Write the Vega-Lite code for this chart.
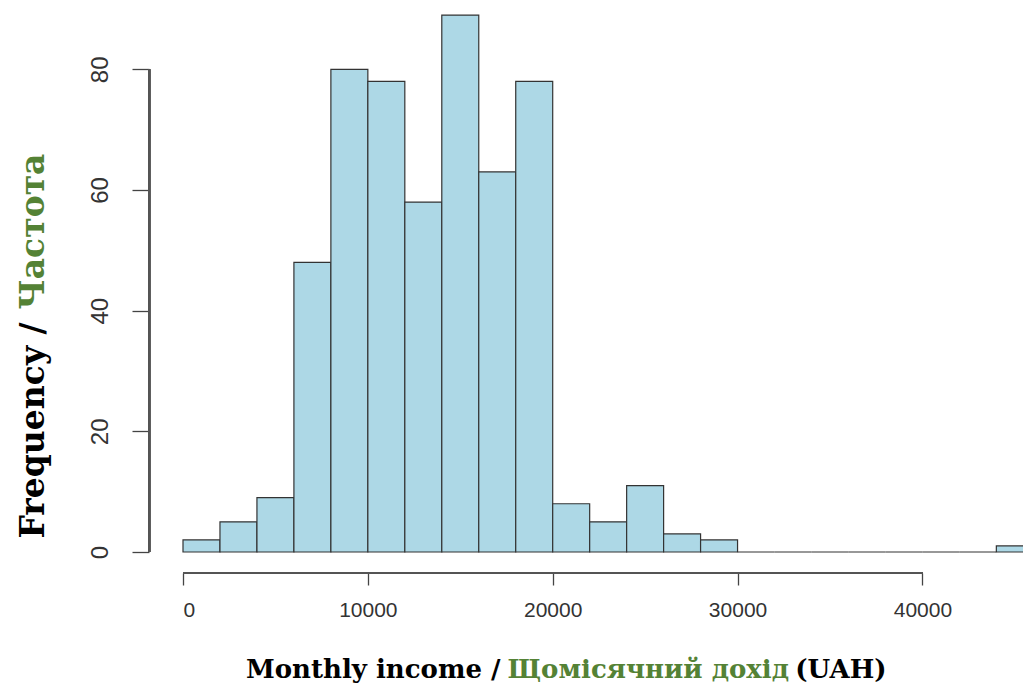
{
  "$schema": "https://vega.github.io/schema/vega-lite/v6.json",
  "width": 840,
  "height": 549,
  "autosize": "none",
  "padding": {"left": 183, "top": 3, "right": 0, "bottom": 134},
  "background": "white",
  "config": {"view": {"stroke": null}},
  "data": {
    "values": [
      {"bin_start": 0, "bin_end": 2000, "count": 2},
      {"bin_start": 2000, "bin_end": 4000, "count": 5},
      {"bin_start": 4000, "bin_end": 6000, "count": 9},
      {"bin_start": 6000, "bin_end": 8000, "count": 48},
      {"bin_start": 8000, "bin_end": 10000, "count": 80},
      {"bin_start": 10000, "bin_end": 12000, "count": 78},
      {"bin_start": 12000, "bin_end": 14000, "count": 58},
      {"bin_start": 14000, "bin_end": 16000, "count": 89},
      {"bin_start": 16000, "bin_end": 18000, "count": 63},
      {"bin_start": 18000, "bin_end": 20000, "count": 78},
      {"bin_start": 20000, "bin_end": 22000, "count": 8},
      {"bin_start": 22000, "bin_end": 24000, "count": 5},
      {"bin_start": 24000, "bin_end": 26000, "count": 11},
      {"bin_start": 26000, "bin_end": 28000, "count": 3},
      {"bin_start": 28000, "bin_end": 30000, "count": 2},
      {"bin_start": 30000, "bin_end": 32000, "count": 0},
      {"bin_start": 32000, "bin_end": 34000, "count": 0},
      {"bin_start": 34000, "bin_end": 36000, "count": 0},
      {"bin_start": 36000, "bin_end": 38000, "count": 0},
      {"bin_start": 38000, "bin_end": 40000, "count": 0},
      {"bin_start": 40000, "bin_end": 42000, "count": 0},
      {"bin_start": 42000, "bin_end": 44000, "count": 0},
      {"bin_start": 44000, "bin_end": 46000, "count": 1}
    ]
  },
  "layer": [
    {
      "mark": {"type": "bar", "fill": "#ADD8E6", "stroke": "#333333", "strokeWidth": 1.2},
      "encoding": {
        "x": {
          "field": "bin_start", "type": "quantitative",
          "scale": {"domain": [0, 45442], "nice": false, "zero": false},
          "axis": {
            "orient": "bottom", "values": [0, 10000, 20000, 30000, 40000], "format": "d",
            "domain": false, "grid": false, "offset": 21, "tickSize": 12, "tickColor": "#444444", "tickWidth": 1.3,
            "labelFont": "Liberation Sans", "labelFontSize": 21, "labelColor": "#333333", "labelPadding": 14,
            "title": "Monthly income /", "titleFont": "DejaVu Serif", "titleFontWeight": "bold", "titleFontSize": 26,
            "titleColor": "#000000", "titleX": 317, "titleY": 104, "titleAlign": "right", "titleBaseline": "alphabetic", "titleAnchor": null
          }
        },
        "x2": {"field": "bin_end"},
        "y": {
          "field": "count", "type": "quantitative",
          "scale": {"domain": [0, 91], "nice": false, "zero": true},
          "axis": {
            "orient": "left", "values": [0, 20, 40, 60, 80],
            "domain": false, "grid": false, "offset": 34, "tickSize": 17, "tickColor": "#444444", "tickWidth": 1.3,
            "labelFont": "Liberation Sans", "labelFontSize": 24, "labelColor": "#333333", "labelAngle": -90, "labelPadding": 20,
            "title": "Frequency /", "titleFont": "DejaVu Serif", "titleFontWeight": "bold", "titleFontSize": 33,
            "titleColor": "#000000", "titleX": -106, "titleY": 535, "titleAlign": "left", "titleBaseline": "alphabetic", "titleAngle": -90, "titleAnchor": null
          }
        },
        "y2": {"datum": 0}
      }
    },
    {
      "mark": {"type": "rule", "color": "#555555", "strokeWidth": 1.8},
      "encoding": {
        "x": {"datum": -1829, "type": "quantitative", "scale": {"domain": [0, 45442], "nice": false, "zero": false}, "axis": null},
        "y": {"datum": 0, "type": "quantitative", "scale": {"domain": [0, 91], "nice": false, "zero": true}, "axis": null},
        "y2": {"datum": 80}
      }
    },
    {
      "mark": {"type": "rule", "color": "#555555", "strokeWidth": 1.5},
      "encoding": {
        "x": {"datum": 0, "type": "quantitative", "scale": {"domain": [0, 45442], "nice": false, "zero": false}, "axis": null},
        "x2": {"datum": 40000},
        "y": {"datum": -3.43, "type": "quantitative", "scale": {"domain": [0, 91], "nice": false, "zero": true}, "axis": null}
      }
    },
    {
      "mark": {"type": "bar", "opacity": 0},
      "encoding": {
        "x": {
          "field": "bin_start", "type": "quantitative",
          "scale": {"domain": [0, 45442], "nice": false, "zero": false},
          "axis": {
            "orient": "bottom", "domain": false, "ticks": false, "labels": false, "grid": false,
            "title": "Щомісячний дохід", "titleFont": "DejaVu Serif", "titleFontWeight": "bold", "titleFontSize": 26,
            "titleColor": "#548235", "titleX": 324, "titleY": 125, "titleAlign": "left", "titleBaseline": "alphabetic", "titleAnchor": null
          }
        },
        "x2": {"field": "bin_end"},
        "y": {
          "field": "count", "type": "quantitative",
          "scale": {"domain": [0, 91], "nice": false, "zero": true},
          "axis": {
            "orient": "left", "domain": false, "ticks": false, "labels": false, "grid": false,
            "title": "Частота", "titleFont": "DejaVu Serif", "titleFontWeight": "bold", "titleFontSize": 33,
            "titleColor": "#548235", "titleX": -140, "titleY": 150, "titleAlign": "right", "titleBaseline": "alphabetic", "titleAngle": -90, "titleAnchor": null
          }
        },
        "y2": {"datum": 0}
      }
    },
    {
      "mark": {"type": "bar", "opacity": 0},
      "encoding": {
        "x": {
          "field": "bin_start", "type": "quantitative",
          "scale": {"domain": [0, 45442], "nice": false, "zero": false},
          "axis": {
            "orient": "bottom", "domain": false, "ticks": false, "labels": false, "grid": false,
            "title": "(UAH)", "titleFont": "DejaVu Serif", "titleFontWeight": "bold", "titleFontSize": 26,
            "titleColor": "#000000", "titleX": 703, "titleY": 125, "titleAlign": "right", "titleBaseline": "alphabetic", "titleAnchor": null
          }
        },
        "x2": {"field": "bin_end"},
        "y": {
          "field": "count", "type": "quantitative",
          "scale": {"domain": [0, 91], "nice": false, "zero": true},
          "axis": null
        },
        "y2": {"datum": 0}
      }
    }
  ],
  "resolve": {"axis": {"x": "independent", "y": "independent"}}
}
